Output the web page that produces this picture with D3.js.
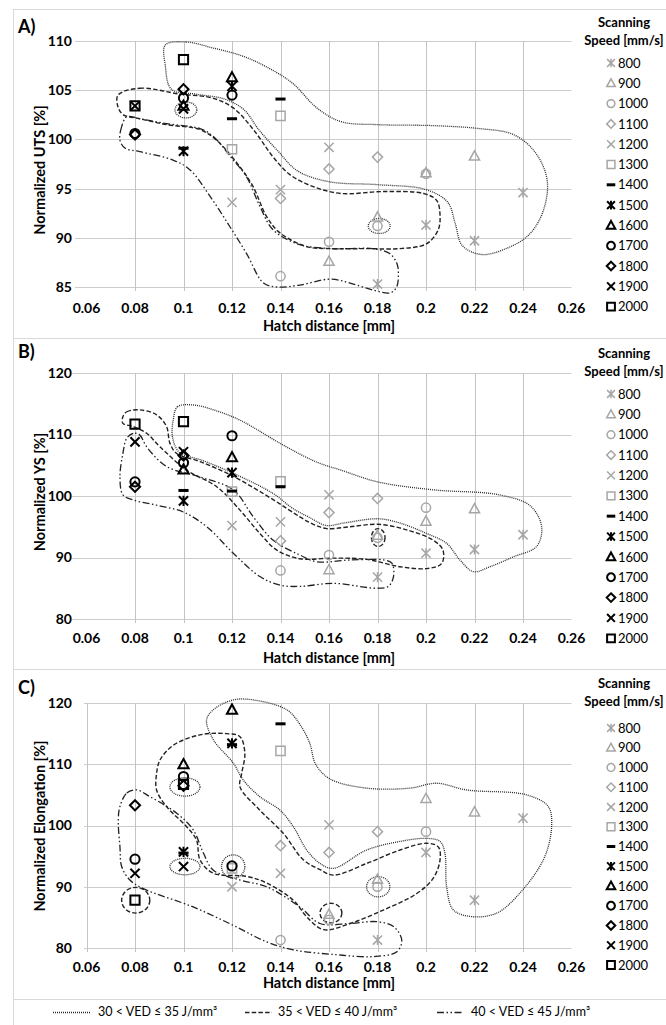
<!DOCTYPE html>
<html>
<meta charset="utf-8">
<script src="https://d3js.org/d3.v7.min.js"></script>
<style>
  body { margin: 0; background: #fff; }
  text { font-family: Lato, "Open Sans", sans-serif; fill: #000; }
</style>
<body>
<div id="chart"></div>
<script>
const width = 666, height = 1025;

// scanning speeds [mm/s] and the hatch distances each one was printed at
const speeds = [800, 900, 1000, 1100, 1200, 1300, 1400, 1500, 1600, 1700, 1800, 1900, 2000];
const hatchBySpeed = [
  [0.18, 0.2, 0.22, 0.24],
  [0.16, 0.18, 0.2, 0.22],
  [0.14, 0.16, 0.18, 0.2],
  [0.14, 0.16, 0.18],
  [0.12, 0.14, 0.16],
  [0.12, 0.14],
  [0.1, 0.12, 0.14],
  [0.1, 0.12],
  [0.1, 0.12],
  [0.08, 0.1, 0.12],
  [0.08, 0.1],
  [0.08, 0.1],
  [0.08, 0.1]
];

const xTicks = [0.06, 0.08, 0.1, 0.12, 0.14, 0.16, 0.18, 0.2, 0.22, 0.24, 0.26];
const xTickLabels = ["0.06", "0.08", "0.1", "0.12", "0.14", "0.16", "0.18", "0.2", "0.22", "0.24", "0.26"];

// A) normalized UTS [%]
const utsValues = [
  [85.3, 91.3, 89.7, 94.6],
  [87.6, 92.1, 96.6, 98.3],
  [86.1, 89.6, 91.2, 96.5],
  [94.0, 97.0, 98.2],
  [93.6, 94.9, 99.2],
  [99.0, 102.4],
  [99.1, 102.1, 104.1],
  [98.8, 105.4],
  [103.4, 106.3],
  [100.6, 104.2, 104.5],
  [100.5, 105.1],
  [103.4, 103.1],
  [103.4, 108.1]
];

// B) normalized YS [%]
const ysValues = [
  [86.8, 90.7, 91.3, 93.7],
  [88.0, 93.6, 95.9, 97.9],
  [87.9, 90.4, 93.2, 98.1],
  [92.7, 97.3, 99.6],
  [95.2, 95.8, 100.2],
  [100.7, 102.4],
  [100.9, 100.8, 101.5],
  [99.2, 103.8],
  [104.3, 106.3],
  [102.3, 105.4, 109.8],
  [101.5, 106.6],
  [108.8, 107.2],
  [111.7, 112.1]
];

// C) normalized elongation [%]
const elongValues = [
  [81.3, 95.6, 87.8, 101.2],
  [85.5, 91.2, 104.4, 102.2],
  [81.3, 84.6, 90.0, 99.0],
  [96.7, 95.6, 99.0],
  [90.0, 92.2, 100.1],
  [93.0, 112.2],
  [95.5, 113.2, 116.6],
  [95.7, 113.4],
  [110.0, 118.9],
  [94.5, 108.0, 93.4],
  [103.3, 106.5],
  [92.2, 93.3],
  [87.8, 106.7]
];

// hand drawn VED group outlines, [hatch, value]
const utsVed30 = [[0.0925,109.6],[0.101,109.9],[0.112,109.3],[0.124,108.5],[0.134,107.4],[0.145,105.7],[0.155,103.2],[0.165,101.8],[0.18,101.5],[0.203,101.4],[0.222,101.1],[0.236,100.5],[0.245,98.7],[0.25,95.8],[0.248,92.5],[0.242,90.2],[0.233,88.9],[0.223,88.3],[0.215,89.2],[0.212,91.5],[0.209,93.6],[0.2,94.9],[0.18,95.4],[0.16,95.7],[0.147,96.8],[0.139,98.8],[0.131,101],[0.125,103],[0.117,104.1],[0.105,104.6],[0.095,105.1],[0.0925,107.5]];
const utsVed35 = [[0.073,104.5],[0.082,105.2],[0.0986,104.6],[0.112,104.2],[0.1205,103.2],[0.1288,101],[0.137,98.2],[0.144,96.4],[0.1535,95.2],[0.165,94.5],[0.1823,94.7],[0.199,94.5],[0.2044,93.8],[0.2058,92.2],[0.205,90.8],[0.2003,89.4],[0.1893,88.9],[0.1755,88.9],[0.1605,88.9],[0.1508,89.1],[0.1398,90.5],[0.1344,92.1],[0.1287,95.2],[0.1233,97.2],[0.1137,99.9],[0.1068,101.0],[0.093,101.5],[0.082,102.1],[0.0752,102.5],[0.073,103.3]];
const utsVed40 = [[0.0766,102.3],[0.0745,101.3],[0.0738,99.9],[0.076,99.1],[0.082,98.75],[0.0957,97.9],[0.1027,96.9],[0.111,94.2],[0.1192,91.1],[0.126,88.4],[0.133,85.4],[0.1385,85.0],[0.148,85.2],[0.1605,85.8],[0.1687,85.4],[0.178,84.7],[0.1852,84.4],[0.1879,85.0],[0.1886,86.4],[0.188,87.4],[0.185,88.4],[0.178,88.9],[0.1687,88.9],[0.1617,88.9],[0.148,89.3],[0.137,90.8],[0.1315,93.2],[0.126,96.2],[0.1205,97.9],[0.1123,100.3],[0.1068,101.1],[0.093,101.6],[0.082,102.1]];
const utsRings30 = [[0.101, 103.0, 0.0045, 0.81], [0.1807, 91.2, 0.0045, 0.76]];

const ysVed30 = [[0.0958,112.5],[0.0975,114.5],[0.104,114.8],[0.114,113.8],[0.124,112.2],[0.141,108.3],[0.155,105.5],[0.165,104.2],[0.18,102.3],[0.203,101.0],[0.23,100.2],[0.243,98.4],[0.2477,95.0],[0.2456,91.8],[0.236,90.1],[0.2264,88.5],[0.2195,87.7],[0.214,89.6],[0.2085,92.3],[0.2003,93.9],[0.1893,95.6],[0.1803,96.3],[0.166,95.6],[0.159,95.2],[0.152,96.5],[0.145,98.0],[0.137,100.4],[0.1205,103.7],[0.107,105.9],[0.0985,107.0],[0.0955,109.5]];
const ysVed35 = [[0.075,112.9],[0.0766,113.7],[0.082,114.0],[0.0889,113.2],[0.093,111.3],[0.0944,108.6],[0.0972,106.9],[0.1068,105.6],[0.1205,103.2],[0.137,99.4],[0.148,96.6],[0.1535,95.4],[0.159,94.7],[0.1687,95.0],[0.1803,95.4],[0.192,94.5],[0.203,92.8],[0.207,91.2],[0.2064,89.0],[0.2003,88.2],[0.1893,88.5],[0.1755,89.7],[0.1618,89.9],[0.148,89.8],[0.1385,91.2],[0.1315,93.9],[0.1233,97.7],[0.1137,101.5],[0.1013,104.2],[0.0903,108.0],[0.0848,110.2],[0.0793,111.3],[0.075,111.8]];
const ysVed40 = [[0.082,109.9],[0.0793,110.2],[0.0766,109.4],[0.075,106.9],[0.0738,103.1],[0.075,100.2],[0.0793,99.35],[0.0889,98.5],[0.0999,97.4],[0.1096,95.0],[0.1205,90.7],[0.1315,86.9],[0.1398,85.5],[0.148,85.3],[0.1618,85.8],[0.1796,85.0],[0.1845,85.3],[0.1866,86.9],[0.1859,89.1],[0.1825,89.6],[0.1687,89.6],[0.155,89.3],[0.148,90.4],[0.137,92.8],[0.1288,96.6],[0.1205,101.0],[0.1068,103.1],[0.093,104.8],[0.0848,108.0]];
const ysRings35 = [[0.1803, 93.25, 0.0028, 1.45]];

const elongVed30 = [[0.1095,117.2],[0.1123,118.9],[0.1205,120.5],[0.1288,120.5],[0.1426,118.9],[0.148,116.5],[0.152,113.5],[0.1545,110.0],[0.1604,107.6],[0.1755,106.1],[0.1934,106.1],[0.2044,106.9],[0.2168,105.8],[0.2415,105.0],[0.2504,103.1],[0.2518,99.8],[0.2484,94.4],[0.2374,88.4],[0.2292,85.7],[0.2195,85.1],[0.2113,86.2],[0.2085,90.0],[0.2078,95.5],[0.2058,97.4],[0.2003,97.9],[0.1893,97.4],[0.1755,96.0],[0.1618,93.0],[0.1563,93.8],[0.1508,96.0],[0.1453,99.8],[0.1398,102.5],[0.1315,104.7],[0.1247,107.4],[0.1205,110.2],[0.1123,114.0]];
const elongVed35 = [[0.0889,108.5],[0.0903,110.7],[0.0958,113.1],[0.1068,114.8],[0.1178,115.0],[0.1233,114.5],[0.1253,111.8],[0.124,108.5],[0.1233,106.3],[0.1315,102.5],[0.1412,98.7],[0.1494,94.4],[0.1563,92.8],[0.1618,91.9],[0.1755,93.8],[0.1893,96.0],[0.2003,97.1],[0.2051,96.5],[0.2058,94.4],[0.203,91.4],[0.1962,88.9],[0.1824,86.2],[0.1687,84.0],[0.1577,83.0],[0.1508,85.1],[0.1453,87.8],[0.1343,90.6],[0.126,91.7],[0.1123,92.2],[0.1068,94.4],[0.1054,97.6],[0.1013,99.8],[0.093,103.1],[0.0889,105.8]];
const elongVed40 = [[0.0738,103.1],[0.0766,105.3],[0.0807,105.8],[0.0862,104.7],[0.0972,102.0],[0.104,99.3],[0.1082,95.5],[0.1123,92.7],[0.1233,91.1],[0.1343,90.0],[0.148,86.7],[0.1563,84.0],[0.1687,84.0],[0.1796,84.3],[0.1866,83.5],[0.19,81.3],[0.188,79.4],[0.1783,78.6],[0.1632,78.9],[0.1453,79.7],[0.1343,81.0],[0.1205,83.7],[0.104,86.7],[0.0834,89.7],[0.0779,91.1],[0.0745,93.3],[0.0738,96.5],[0.0731,100.9]];
const elongRings30 = [[0.1006, 106.3, 0.0062, 1.5], [0.1006, 93.3, 0.0062, 1.35], [0.1205, 93.3, 0.0048, 1.9], [0.1803, 90.0, 0.0048, 1.65]];
const elongRings35 = [[0.0803, 87.8, 0.0058, 2.1], [0.1608, 85.7, 0.0045, 1.6]];

const vedLabels = ["30 < VED \u2264 35 J/mm\u00b3", "35 < VED \u2264 40 J/mm\u00b3", "40 < VED \u2264 45 J/mm\u00b3"];

// ---- styles ----
const grey = "#a6a6a6";
const kinds = ["asterisk", "triangle", "circle", "diamond", "cross", "square", "dash",
               "asterisk", "triangle", "circle", "diamond", "cross", "square"];
const vedDash = ["1,1", "4.5,2.2", "7,2.5,1.5,2.5,1.5,2.5"];
const vedWidth = [1.3, 1.4, 1.3];
const vedColor = ["#2a2a2a", "#222", "#222"];

function markerPath(kind, s) {
  switch (kind) {
    case "square": return `M${-s},${-s}H${s}V${s}H${-s}Z`;
    case "circle": return `M${s},0A${s},${s} 0 1,1 ${-s},0A${s},${s} 0 1,1 ${s},0Z`;
    case "diamond": return `M0,${-s * 1.1}L${s * 1.1},0L0,${s * 1.1}L${-s * 1.1},0Z`;
    case "triangle": return `M0,${-s * 1.15}L${s * 1.1},${s * 0.85}L${-s * 1.1},${s * 0.85}Z`;
    case "cross": return `M${-s},${-s}L${s},${s}M${-s},${s}L${s},${-s}`;
    case "asterisk": return `M${-s},${-s}L${s},${s}M${-s},${s}L${s},${-s}M0,${-s * 1.1}V${s * 1.1}`;
    case "dash": return `M${-s * 1.1},0H${s * 1.1}`;
  }
}
function drawMarker(g, kind, isGrey, s, cx, cy) {
  g.append("path")
    .attr("transform", `translate(${cx},${cy})`)
    .attr("d", markerPath(kind, s))
    .attr("fill", "none")
    .attr("stroke", isGrey ? grey : "#000")
    .attr("stroke-width", kind === "dash" ? 3 : (isGrey ? 1.5 : 2));
}

const svg = d3.select("#chart").append("svg")
  .attr("width", width).attr("height", height);

// frame and separators
svg.append("rect").attr("x", 13.5).attr("y", 9.5).attr("width", 660).attr("height", 1030)
  .attr("fill", "none").attr("stroke", "#d9d9d9");
[338.5, 669.5, 999.5].forEach(yy => {
  svg.append("line").attr("x1", 13.5).attr("x2", 666).attr("y1", yy).attr("y2", yy)
    .attr("stroke", "#d9d9d9");
});

const x = d3.scaleLinear().domain([0.06, 0.26]).range([86.5, 571.5]);

const panels = [
  { label: "A)", values: utsValues, title: "Normalized UTS [%]", yMin: 85, yMax: 110, yStep: 5,
    top: 41, bottom: 287, gridLeft: 75, yAxisLine: false, labelY: 33, tickY: 313, xTitleY: 331,
    titleY: 170, headY: 22, firstItem: 63, itemStep: 20.3,
    ved: [utsVed30, utsVed35, utsVed40], rings: [utsRings30, [], []] },
  { label: "B)", values: ysValues, title: "Normalized YS [%]", yMin: 80, yMax: 120, yStep: 10,
    top: 373, bottom: 619, gridLeft: 72, yAxisLine: false, labelY: 358, tickY: 643, xTitleY: 663,
    titleY: 492, headY: 353, firstItem: 394, itemStep: 20.36,
    ved: [ysVed30, ysVed35, ysVed40], rings: [[], ysRings35, []] },
  { label: "C)", values: elongValues, title: "Normalized Elongation [%]", yMin: 80, yMax: 120, yStep: 10,
    top: 703, bottom: 948, gridLeft: 84, yAxisLine: true, labelY: 694, tickY: 972, xTitleY: 988,
    titleY: 826, headY: 683, firstItem: 728, itemStep: 19.75,
    ved: [elongVed30, elongVed35, elongVed40], rings: [elongRings30, elongRings35, []] }
];

panels.forEach(p => {
  const y = d3.scaleLinear().domain([p.yMin, p.yMax]).range([p.bottom, p.top]);
  const g = svg.append("g");
  const yTicks = d3.range(p.yMin, p.yMax + 0.001, p.yStep);

  // gridlines
  yTicks.forEach(t => {
    g.append("line").attr("x1", p.gridLeft).attr("x2", x(0.26))
      .attr("y1", Math.round(y(t)) + 0.5).attr("y2", Math.round(y(t)) + 0.5)
      .attr("stroke", "#cccccc");
  });
  xTicks.filter(t => t > 0.07 && t < 0.25 || (p.yAxisLine && t < 0.07)).forEach(t => {
    g.append("line").attr("x1", Math.round(x(t)) + 0.5).attr("x2", Math.round(x(t)) + 0.5)
      .attr("y1", p.top).attr("y2", p.bottom + 4)
      .attr("stroke", "#c4c4c4");
  });

  // tick labels
  yTicks.forEach(t => {
    g.append("text").attr("x", 72).attr("y", y(t)).attr("dy", "0.35em")
      .attr("text-anchor", "end").attr("font-size", 14).attr("font-weight", 700).text(t);
  });
  xTicks.forEach((t, i) => {
    g.append("text").attr("x", x(t)).attr("y", p.tickY)
      .attr("text-anchor", "middle").attr("font-size", 14).attr("font-weight", 700).text(xTickLabels[i]);
  });
  g.append("text").attr("x", (x(0.06) + x(0.26)) / 2).attr("y", p.xTitleY)
    .attr("text-anchor", "middle").attr("font-size", 14.5).attr("font-weight", 700)
    .text("Hatch distance [mm]");
  g.append("text").attr("transform", `translate(45,${p.titleY}) rotate(-90)`)
    .attr("text-anchor", "middle").attr("font-size", 14.5).attr("font-weight", 700).text(p.title);
  g.append("text").attr("x", 18).attr("y", p.labelY).attr("font-size", 18).attr("font-weight", 700).text(p.label);

  // VED outlines
  const outline = d3.line().x(d => x(d[0])).y(d => y(d[1])).curve(d3.curveCatmullRomClosed.alpha(0.5));
  p.ved.forEach((pts, k) => {
    g.append("path").attr("d", outline(pts)).attr("fill", "none")
      .attr("stroke", vedColor[k]).attr("stroke-width", vedWidth[k]).attr("stroke-dasharray", vedDash[k]);
    p.rings[k].forEach(r => {
      g.append("ellipse").attr("cx", x(r[0])).attr("cy", y(r[1]))
        .attr("rx", x(r[0] + r[2]) - x(r[0])).attr("ry", y(r[1]) - y(r[1] + r[3]))
        .attr("fill", "none").attr("stroke", vedColor[k]).attr("stroke-width", vedWidth[k])
        .attr("stroke-dasharray", vedDash[k]);
    });
  });

  // data markers
  speeds.forEach((sp, i) => {
    hatchBySpeed[i].forEach((h, j) => {
      drawMarker(g, kinds[i], i < 6, 4.6, x(h), y(p.values[i][j]));
    });
  });

  // legend
  g.append("text").attr("x", 624).attr("y", p.headY).attr("dy", "0.35em").attr("text-anchor", "middle")
    .attr("font-size", 13).attr("font-weight", 700).text("Scanning");
  g.append("text").attr("x", 624).attr("y", p.headY + 18).attr("dy", "0.35em").attr("text-anchor", "middle")
    .attr("font-size", 13).attr("font-weight", 700).text("Speed [mm/s]");
  speeds.forEach((sp, i) => {
    const yy = p.firstItem + i * p.itemStep;
    drawMarker(g, kinds[i], i < 6, 3.9, 611, yy);
    g.append("text").attr("x", 618).attr("y", yy).attr("dy", "0.36em")
      .attr("font-size", 13).attr("fill", "#222").text(sp);
  });
});

// VED line-style legend
const legX = [[53, 90, 98], [245, 272, 278], [437, 463, 471]];
legX.forEach((l, k) => {
  svg.append("line").attr("x1", l[0]).attr("x2", l[1]).attr("y1", 1012.5).attr("y2", 1012.5)
    .attr("stroke", vedColor[k]).attr("stroke-width", vedWidth[k]).attr("stroke-dasharray", vedDash[k]);
  svg.append("text").attr("x", l[2]).attr("y", 1012).attr("dy", "0.35em")
    .attr("font-size", 12.5).attr("fill", "#222").text(vedLabels[k]);
});
</script>
</body>
</html>
